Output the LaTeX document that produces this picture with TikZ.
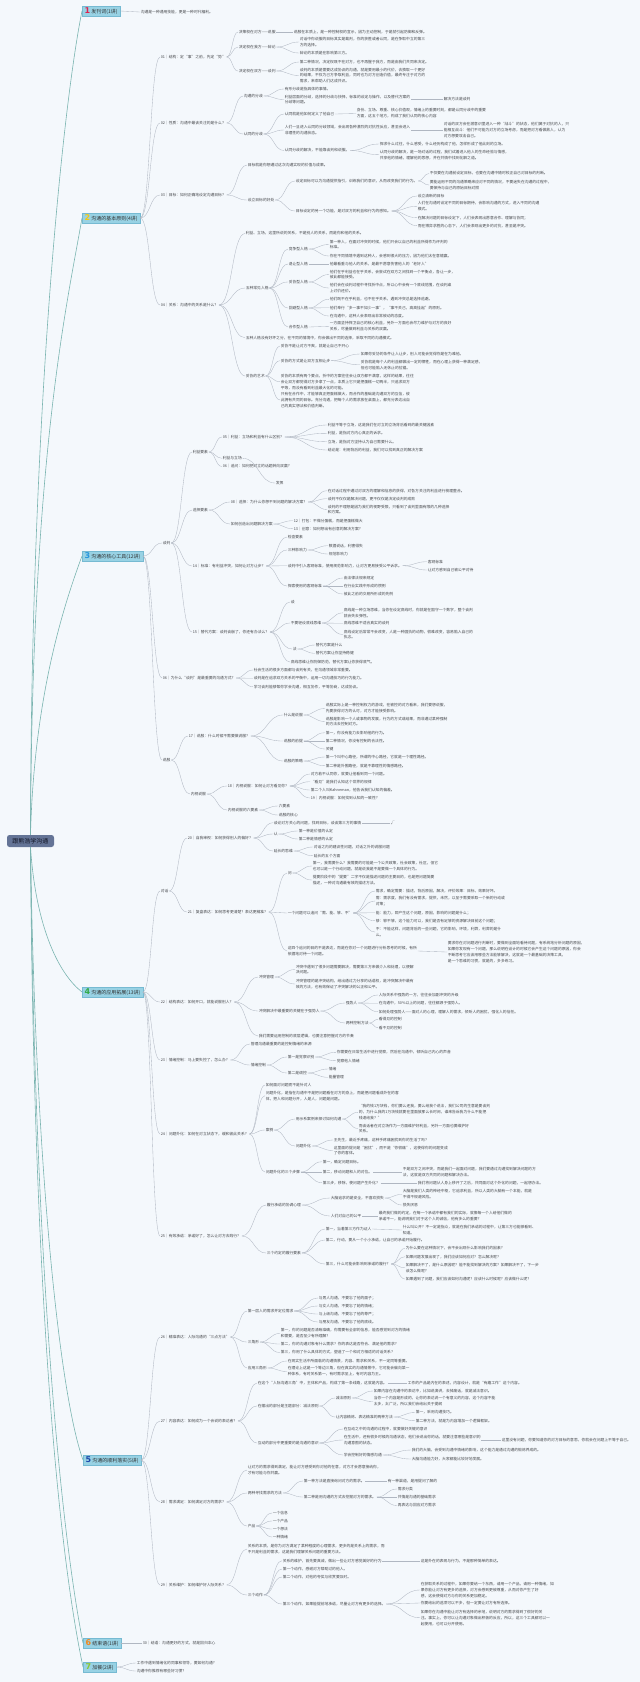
\documentclass[tikz,border=0pt]{standalone}
\usepackage{fontspec}
\setmainfont{Noto Sans CJK SC}
\newfontfamily\numfont{DejaVu Sans}
\usetikzlibrary{calc}
\definecolor{bg}{RGB}{244,248,252}
\definecolor{txt}{RGB}{70,72,76}
\definecolor{lnc}{RGB}{176,183,194}
\definecolor{rlc}{RGB}{122,180,176}
\definecolor{chf}{RGB}{152,210,228}
\definecolor{chd}{RGB}{118,186,210}
\definecolor{rootf}{RGB}{100,116,150}
\definecolor{dA}{RGB}{222,34,78}
\definecolor{dB}{RGB}{244,200,20}
\definecolor{dC}{RGB}{40,150,220}
\definecolor{dD}{RGB}{50,170,70}
\definecolor{dE}{RGB}{28,70,170}
\definecolor{dF}{RGB}{240,135,30}
\definecolor{dG}{RGB}{140,200,50}
\newcommand\chnum[2]{{\numfont\bfseries\fontsize{8}{8}\selectfont\color{#1}#2}\hspace{1.2pt}}
\newcommand\mlk[2]{\draw[lnk] let \p1=(#1.east), \p2=(#2.west) in (\p1) .. controls ($(\p1)!0.5!(\x2,\y1)$) and ($(\p2)!0.5!(\x1,\y2)$) .. (\p2);}
\newcommand\mmn[5]{\node[tx] (#1) at (#2,#3) {#4};\mlk{#5}{#1}}
\begin{document}
\begin{tikzpicture}[x=1pt,y=-1pt,
  tx/.style={anchor=west,inner sep=0.6pt,font=\fontsize{3.8}{5.9}\selectfont,text=txt,align=left},
  lnk/.style={draw=lnc,line width=0.35pt},
  rl/.style={draw=rlc,line width=0.6pt},
  chap/.style={anchor=west,fill=chf,draw=chd,line width=0.3pt,minimum height=10.5pt,inner xsep=2.5pt,inner ysep=0pt,font=\fontsize{5}{5}\selectfont,text=black!80},
  rootbox/.style={fill=rootf,rounded corners=2.5pt,minimum width=47pt,minimum height=12pt,inner sep=1pt,font=\fontsize{6}{6}\selectfont,text={rgb,255:red,18;green,22;blue,38}}]
\useasboundingbox (0,0) rectangle (640,1682);
\fill[bg] (0,0) rectangle (640,1682);
% root and chapters
\node[rootbox] (root) at (30.5,841) {跟熊浩学沟通};
\node[chap] (ch1) at (82,11) {\chnum{dA}{1}发刊词(1讲)};
\node[chap] (ch2) at (82,218) {\chnum{dB}{2}沟通的基本原则(4讲)};
\node[chap] (ch3) at (82,556) {\chnum{dC}{3}沟通的核心工具(12讲)};
\node[chap] (ch4) at (82,992) {\chnum{dD}{4}沟通的应用拓展(13讲)};
\node[chap] (ch5) at (83,1460) {\chnum{dE}{5}沟通的顺利落实(5讲)};
\node[chap] (ch6) at (83,1643) {\chnum{dF}{6}结束语(1讲)};
\node[chap] (ch7) at (83,1667) {\chnum{dG}{7}加餐(2讲)};
\draw[rl] (root.north) .. controls (31,420) and (62,110) .. (ch1.west);
\draw[rl] (root.north) .. controls (32,450) and (68,300) .. (ch2.west);
\draw[rl] (root.north) .. controls (34,700) and (62,610) .. (ch3.west);
\draw[rl] (root.south) .. controls (36,930) and (60,975) .. (ch4.west);
\draw[rl] (root.south) .. controls (35,1150) and (58,1390) .. (ch5.west);
\draw[rl] (root.south) .. controls (34,1200) and (55,1500) .. (ch6.west);
\draw[rl] (root.south) .. controls (33,1220) and (52,1520) .. (ch7.west);
% ---------- chapter 1
\mmn{a0}{140}{12}{沟通是一种通用技能，更是一种时代福利。}{ch1}
% ---------- chapter 2
\mmn{L1}{160}{57}{01｜结构：定“事”之前，先定“势”}{ch2}
\mmn{a1}{238}{32}{决策权在对方——说服}{L1}
\mmn{a1a}{293}{32}{说服在本质上，是一种控制权的宣示，因为主动控制，于是就引起防御和反弹。}{a1}
\mmn{a2}{238}{47}{决定权在我方——辩论}{L1}
\mmn{a2a}{299}{42}{对话中你说服的目标其实是裁判，你的获胜或者认同，是在争取中立的第三\\方的选择。}{a2}
\mmn{a2b}{299}{53}{辩论的本质是在影响第三方。}{a2}
\mmn{a3}{238}{71}{决定权在双方——谈判}{L1}
\mmn{a3a}{299}{62}{第二种情况，决定权既不在对方，也不再握于我方，而是由我们共同来决定。}{a3}
\mmn{a3b}{299}{75.5}{谈判的本质是需要达成协议的沟通，就是要用最小的代价，去换取一个更好\\的结果，不仅为己方争取利益，同时也为对方创造价值，最终专注于对方的\\需求，来帮助人们达成共识。}{a3}
\mmn{L2}{160}{123}{02｜性质：沟通中最该关注的是什么？}{ch2}
\mmn{b1}{243}{96}{沟通的分歧}{L2}
\mmn{b1a}{284}{89}{有形分歧是指具体的事情。}{b1}
\mmn{b1b}{284}{99.5}{利益层面的分歧，选择的分歧与抉择，标准的设定与操作，以及替代方案的\\分歧等问题。}{b1}
\mmn{b1c}{443}{99.5}{解决方法是谈判}{b1b}
\mmn{b2}{243}{134}{认同的分歧}{L2}
\mmn{b2a}{284}{114}{认同就是他如何定义了他自己}{b2}
\mmn{b2a1}{356}{113.5}{身份、立场、尊重、核心价值观，情绪上的重要时刻，都是认同分歧中的重要\\方面，这五个地方，构成了我们认同的核心内容}{b2a}
\mmn{b2b}{284}{130}{人们一旦进入认同的分歧领域，会出现各种激烈的对抗性反应，甚至会进入\\非理性的沟通状态。}{b2}
\mmn{b2b1}{443}{130}{对话的双方会在潜意识里进入一种“战斗”的状态，他们属于对抗的人，只\\能相互战斗：他们不可能为对方的立场考虑，而是把对方看做敌人，认为\\对方想要攻击自己。}{b2b}
\mmn{b2c}{284}{150.5}{认同分歧的解决，不能靠谈判和说服。}{b2}
\mmn{b2c1}{379}{144}{探求什么过往，什么感受，什么经历构成了他，怎样形成了他此刻的立场。}{b2c}
\mmn{b2c2}{379}{154.7}{认同分歧的解决，是一场对话的过程，我们试着进入他人的生命经验与情感，\\共享他的情绪，理解他的思想，并在共情中找到化解之道。}{b2c}
\mmn{L3}{160}{195}{03｜目标：如何正确地设定沟通目标？}{ch2}
\mmn{e3a}{247}{165}{目标就是你想通过这次沟通实现的价值与成果。}{L3}
\mmn{e3b}{247}{200}{设立目标的好处}{L3}
\mmn{e3b1}{295}{181}{设定目标可以为沟通提供指引，训练我们的意识，从而改变我们的行为。}{e3b}
\mmn{e3b1a}{429}{173.5}{不仅要在沟通前设定目标，也要在沟通中随时校正自己对目标的判断。}{e3b1}
\mmn{e3b1b}{429}{185}{要能运用不同的沟通策略来应对不同的情况，不要迷失在沟通的过程中，\\要保持与自己的原始目标对照}{e3b1}
\mmn{e3b2}{295}{211}{目标设定的另一个功能，是对双方的利益和行为的感知。}{e3b}
\mmn{e3b2a}{417}{196}{设立清晰的目标}{e3b2}
\mmn{e3b2b}{417}{206.3}{人们在沟通时设定不同的目标期待，会影响沟通的方式，进入不同的沟通\\模式。}{e3b2}
\mmn{e3b2c}{417}{217.7}{在解决问题的目标设定下，人们会表现出愿意合作、理解与协同；}{e3b2}
\mmn{e3b2d}{417}{225.7}{而在博弈求胜的心态下，人们会表现出更多的对抗，甚至是冲突。}{e3b2}
\mmn{L4}{160}{305}{04｜关系：沟通中的关系是什么？}{ch2}
\mmn{r4a}{245}{233.5}{利益、立场，这里所说的关系，不是别人的关系，而是你和他的关系。}{L4}
\mmn{r4b}{245}{288}{五种常见人格}{L4}
\mmn{r4b1}{288}{249}{竞争型人格}{r4b}
\mmn{r4b1a}{329}{244.5}{第一种人，在面对冲突的时候，他们只会以自己的利益所得作为评判的\\标准。}{r4b1}
\mmn{r4b1b}{329}{256}{你在不同情境中遇到这种人，会感到很大的压力，因为他们太在意输赢。}{r4b1}
\mmn{r4b2}{288}{264}{退让型人格}{r4b}
\mmn{r4b2a}{329}{264}{他最看重与他人的关系，是最不愿意伤害他人的“老好人”}{r4b2}
\mmn{r4b3}{288}{282}{妥协型人格}{r4b}
\mmn{r4b3a}{329}{274.5}{他们在乎利益也在乎关系，会尝试在双方之间找到一个平衡点，各让一步，\\彼此都能接受。}{r4b3}
\mmn{r4b3b}{329}{288}{他们会在谈判过程中寻找折中点，所以心中会有一个底线范围，在谈判桌\\上讨价还价。}{r4b3}
\mmn{r4b4}{288}{308}{回避型人格}{r4b}
\mmn{r4b4a}{329}{299.3}{他们既不在乎利益，也不在乎关系，遇到冲突总是选择逃避。}{r4b4}
\mmn{r4b4b}{329}{307.7}{他们奉行“多一事不如少一事”，“事不关己，高高挂起”的原则。}{r4b4}
\mmn{r4b4c}{329}{316}{在沟通中，这种人会表现出非常被动的态度。}{r4b4}
\mmn{r4b5}{288}{327}{合作型人格}{r4b}
\mmn{r4b5a}{329}{326.3}{一方面坚持捍卫自己的核心利益，另外一方面也会尽力维护与对方的良好\\关系，尽量做到利益与关系的双赢。}{r4b5}
\mmn{r4c}{245}{337.7}{五种人格没有好坏之分，在不同的情境中，你会做出不同的选择，采取不同的沟通模式。}{L4}
\mmn{r4d}{245}{376}{妥协的艺术}{L4}
\mmn{r4d1}{280}{346}{妥协不是让对方不爽，就是让自己不开心}{r4d}
\mmn{r4d2}{280}{360.7}{妥协的方式是让双方互相让步}{r4d}
\mmn{r4d2a}{360}{354}{如果你妥协的条件让人让步，别人可能会觉得你是在为难他。}{r4d2}
\mmn{r4d2b}{360}{364.8}{妥协就是每个人的利益都做出一定的牺牲，而在心理上获得一种满足感，\\但也可能陷入无休止的拉锯。}{r4d2}
\mmn{r4d3}{280}{381.7}{妥协的本质有两个要点，折中的方案往往会让双方都不满意，这样的结果，往往\\会让双方都觉得对方多拿了一点，本质上它只是把蛋糕一切两半，只追求双方\\平等，而没有看到利益最大化的可能。}{r4d}
\mmn{r4d4}{280}{400}{只有在合作中，才能够真正把蛋糕做大，而合作的基础是沟通双方的互信，彼\\此拥有共同的目标。充分沟通，把每个人的需求放在桌面上，都充分表达出自\\己的真实想法和价值判断。}{r4d}
% ---------- chapter 3
\mmn{T}{162}{543}{谈判}{ch3}
\mmn{t1}{192}{452}{利益要素}{T}
\mmn{t1a}{222}{437}{05｜利益：立场和利益有什么区别？}{t1}
\mmn{t1a1}{327}{425}{利益不等于立场，这是我们在对立的立场背后看到的最关键因素}{t1a}
\mmn{t1a2}{327}{433.3}{利益，是指对方内心真正的诉求。}{t1a}
\mmn{t1a3}{327}{441.7}{立场，是指对方坚持认为自己需要什么。}{t1a}
\mmn{t1a4}{327}{450}{结论是：利用背后的利益，我们可以找到真正的解决方案}{t1a}
\mmn{t1b}{222}{458.3}{利益与立场}{t1}
\mmn{t1c}{222}{466.5}{06｜追问：如何把对立的话题转向双赢？}{t1}
\mmn{t1d}{275}{483}{发挥}{t1b}
\mmn{t2}{192}{510}{选择要素}{T}
\mmn{t2a}{230}{502}{08｜选择：为什么你想不到问题的解决方案？}{t2}
\mmn{t2a1}{327}{490.7}{在对话过程中通过对双方的理解和信息的获得，对各方关注的利益进行梳理整合。}{t2a}
\mmn{t2a2}{327}{498.7}{谈判不仅仅是解决问题，更不仅仅是决定谈判的成败}{t2a}
\mmn{t2a3}{327}{509.5}{谈判的不理想是因为我们的视野受限，只看到了谈判里面有限的几种选择\\和方案。}{t2a}
\mmn{t2b}{230}{524}{如何创造出问题解决方案}{t2}
\mmn{t2b1}{293}{520.7}{12｜打包：不做分蛋糕，而是把蛋糕做大}{t2b}
\mmn{t2b2}{293}{528.7}{13｜创意：如何想出有创意的解决方案？}{t2b}
\mmn{t3}{192}{566}{14｜标准：有利益冲突，如何让对方让步？}{T}
\mmn{t3a}{287}{537}{检查要素}{t3}
\mmn{t3b}{287}{550}{三种影响力}{t3}
\mmn{t3b1}{328}{545.7}{数据说话，利害得失}{t3b}
\mmn{t3b2}{328}{554}{规范影响力}{t3b}
\mmn{t3c}{287}{565.7}{谈判中引入客观标准，使用规范影响力，让对方更易接受公平诉求。}{t3}
\mmn{t3c1}{427}{561.7}{客观标准}{t3c}
\mmn{t3c2}{427}{570}{让对方感到自己被公平对待}{t3c}
\mmn{t3d}{287}{586}{探索使用的客观标准}{t3}
\mmn{t3d1}{343}{578}{由法律法规来规定}{t3d}
\mmn{t3d2}{343}{586}{在行业实践中形成的惯例}{t3d}
\mmn{t3d3}{343}{594}{彼此之前的交易所形成的先例}{t3d}
\mmn{t4}{192}{632}{15｜替代方案：谈判谈崩了，你还有办法么？}{T}
\mmn{t4a}{290}{602}{谈}{t4}
\mmn{t4b}{290}{623}{不要轻设底线思维}{t4}
\mmn{t4b1}{343}{612.8}{底线是一种立场思维，当你在设定底线时，你就是在固守一个数字，整个谈判\\就会失去弹性。}{t4b}
\mmn{t4b2}{343}{623.3}{底线思维不适合真实的谈判}{t4b}
\mmn{t4b3}{343}{634.5}{底线设定后常常不会改变，人是一种固执的动物，很难改变，容易陷入自己的\\执念。}{t4b}
\mmn{t4c}{292}{649}{法}{t4}
\mmn{t4c1}{315}{645}{替代方案是什么}{t4c}
\mmn{t4c2}{315}{653.3}{替代方案让你坚持稳健}{t4c}
\mmn{t4d}{290}{662}{底线思维让你防御防范，替代方案让你获得底气。}{t4}
\mmn{S6}{162}{678}{06｜为什么“谈判”是最重要的沟通方式？}{ch3}
\mmn{s6a}{253}{670}{社会生活的很多方面都与谈判有关，在沟通领域非常重要。}{S6}
\mmn{s6b}{253}{678.3}{谈判是在追求双方关系的平衡中，运用一切沟通技巧的行为能力。}{S6}
\mmn{s6c}{253}{686.7}{学习谈判能够帮你学会沟通，相互协作，平等协商，达成协议。}{S6}
\mmn{SV}{162}{760}{说服}{ch3}
\mmn{s1}{188}{736}{17｜说服：什么时候不需要做说服？}{SV}
\mmn{s1a}{283}{715}{什么是说服}{s1}
\mmn{s1a1}{325}{708.5}{说服实际上是一种控制权力的游戏，在被控的对方看来，我们要想说服，\\先要获得对方的认可，对方才能接受影响。}{s1a}
\mmn{s1a2}{325}{721.5}{说服是影响一个人或事物的发展，行为的方式或结果，而非通过某种强制\\的方法去控制对方。}{s1a}
\mmn{s1b}{283}{741}{说服的前提}{s1}
\mmn{s1b1}{325}{732.7}{第一，你没有能力去影响他的行为。}{s1b}
\mmn{s1b2}{325}{741}{第二种情况，你没有控制的合法性。}{s1b}
\mmn{s1b3}{325}{749}{关键}{s1b}
\mmn{s1c}{283}{761}{说服的策略}{s1}
\mmn{s1c1}{325}{757}{第一个叫中心路径，所谓的中心路径，它就是一个理性路径。}{s1c}
\mmn{s1c2}{325}{765.7}{第二种是外围路径，就是不靠理性的情感路径。}{s1c}
\mmn{s2}{190}{794}{内视说服}{SV}
\mmn{s2a}{227}{786}{18｜内视说服：如何让对方看见你？}{s2}
\mmn{s2a1}{310}{774}{对方若不认同你，就要让他看到同一个问题。}{s2a}
\mmn{s2a2}{310}{781.7}{“看见”是我们认知这个世界的规律}{s2a}
\mmn{s2a3}{310}{790}{第二个人叫Kahneman，他告诉我们认知的偏差。}{s2a}
\mmn{s2a4}{310}{798}{19｜内视说服：如何找到认知的一致性？}{s2a}
\mmn{s2b}{227}{810}{内视说服的六要素}{s2}
\mmn{s2b1}{278}{806}{六要素}{s2b}
\mmn{s2b2}{278}{815}{说服的核心}{s2b}
% ---------- chapter 4
\mmn{DH}{160}{891}{对话}{ch4}
\mmn{o1}{187}{838}{20｜自我审视：如何获得别人的偏好？}{DH}
\mmn{o1a}{273}{822.7}{谈论对方关心的问题，找到目标，谈谈第三方的事情}{o1}
\mmn{o1a1}{390}{822.7}{√}{o1a}
\mmn{o1b}{273}{834}{认}{o1}
\mmn{o1b1}{298}{831}{第一种是价值的认定}{o1b}
\mmn{o1b2}{298}{839}{第二种是情感的认定}{o1b}
\mmn{o1c}{273}{851}{延长的思维}{o1}
\mmn{o1c1}{313}{847}{对话之内的建议性问题，对话之外的说服问题}{o1c}
\mmn{o1c2}{313}{855.7}{延长的五个方面}{o1c}
\mmn{o2}{187}{912}{21｜复盘表达：如何思考更清楚？表达更精准？}{DH}
\mmn{o2a}{287}{873}{问}{o2}
\mmn{o2a1}{312}{866}{第一，我需要什么？我需要的可能是一个公共政策，社会政策，社区，但它\\也可以是一个行动问题，就是说我是不是要做一个具体的行为。}{o2a}
\mmn{o2a2}{312}{880}{提要阶段中的“提要”二字不仅是描述问题的主要目的，也是把问题简要\\描述，一种对沟通最有效的描述方法。}{o2a}
\mmn{o2b}{287}{913}{一个问题可以追问“需、能、够、不”}{o2}
\mmn{o2b1}{375}{891}{需求，确定需要：描述，背后原因，解决，评价效果：目标，效果好坏。}{o2b}
\mmn{o2b2}{375}{901}{需：需求度，我们有没有需求，提供，未然，以至于需要采取一个新的行动或\\对策；}{o2b}
\mmn{o2b3}{375}{912.7}{能：能力，即产生这个问题，原因，影响的问题是什么；}{o2b}
\mmn{o2b4}{375}{920.7}{够：够不够，这个能力可以，我们是否有足够的资源解决目前这个问题；}{o2b}
\mmn{o2b5}{375}{932}{不：不能这样，问题背后的一些问题，它的影响，环境，利弊，利弊的是什\\么。}{o2b}
\mmn{o2c}{287}{951}{这四个追问的目的不是表达，而是在你对一个问题进行分析思考的时候，有所\\依据地对待一个问题。}{o2}
\mmn{o2c1}{447}{952}{要求你在对问题进行判断时，要做到全面地看待问题，有系统地分析问题的原因，\\如果你发现有一个问题，那么说明在设计的时候它会产生这个问题的原因，你会\\不断思考它应该用哪些方法能够解决，这就是一个最基础的决策工具，\\是一个思维的习惯，就是的，多多练习。}{o2c}
\mmn{K}{160}{1002}{22｜结构表达：如何开口，就能说服别人？}{ch4}
\mmn{k1}{258}{977}{冲突管理}{K}
\mmn{k1a}{295}{969.5}{冲突中遇到了很多问题需要解决，需要第三方来做介入和处理，以便解\\决问题。}{k1}
\mmn{k1b}{295}{984}{冲突管理的是冲突结构，给出通过力分享的话语权，是冲突解决中最有\\效的方法，也有效保证了冲突解决的公正和公平。}{k1}
\mmn{k2}{258}{1011}{冲突解决中最重要的关键在于强势人}{K}
\mmn{k2a}{345}{1003}{强势人}{k2}
\mmn{k2a1}{378}{995}{人际关系中强势的一方，往往会加剧冲突的升级}{k2a}
\mmn{k2a2}{378}{1003.3}{在沟通中，50\%以上的问题，往往都源于强势人。}{k2a}
\mmn{k2a3}{378}{1011.7}{如何处理强势人——面对人的心理，理解人的需求，倾听人的困扰，强化人的信任。}{k2a}
\mmn{k2b}{345}{1023}{两种控制方法}{k2}
\mmn{k2b1}{378}{1019.3}{看得见的控制}{k2b}
\mmn{k2b2}{378}{1027.7}{看不见的控制}{k2b}
\mmn{k3}{258}{1036}{我们需要运用控制的底层逻辑，也要注意把握对方的节奏}{K}
\mmn{E}{160}{1060}{23｜情绪控制：马上要失控了，怎么办？}{ch4}
\mmn{e1}{250}{1044}{管理沟通最重要的是控制情绪的来源}{E}
\mmn{e2}{250}{1065}{情绪控制}{E}
\mmn{e2a}{287}{1057}{第一是觉察识别}{e2}
\mmn{e2a1}{336}{1052.3}{你需要在日常生活中进行觉察，然后在沟通中，倾听自己内心的声音}{e2a}
\mmn{e2a2}{336}{1060.7}{觉察他人情绪}{e2a}
\mmn{e2b}{287}{1073}{第二是调控}{e2}
\mmn{e2b1}{328}{1069}{情绪}{e2b}
\mmn{e2b2}{328}{1077.3}{能量管理}{e2b}
\mmn{F}{160}{1134}{24｜问题外化：如何在对立状态下，缓和彼此关系？}{ch4}
\mmn{f1}{265}{1085}{如何面对问题而不是针对人}{F}
\mmn{f2}{265}{1095.7}{问题外化，是指在沟通中不是把问题看在对方的身上，而是把问题看成外在的客\\体，把人和问题分开，人是人，问题是问题。}{F}
\mmn{f3}{265}{1130}{案例}{F}
\mmn{f3a}{295}{1119}{用示系案例来探讨如何沟通}{f3}
\mmn{f3a1}{358}{1112.3}{“我的钱1万块钱，你们要么还我，要么给我个说法，我们公司的生意是要谈判\\的，为什么我的1万块钱就要在里面放那么长时间，谁来告诉我为什么不能把\\钱退给我？”}{f3a}
\mmn{f3a2}{358}{1128.5}{而谈话者在对立场作为一方面维护好利益，另外一方面也要维护好\\关系。}{f3a}
\mmn{f3b}{295}{1146}{问题外化}{f3}
\mmn{f3b1}{333}{1140}{王先生，最近手疼痛，这种手疼痛困扰到你的生活了吗？}{f3b}
\mmn{f3b2}{333}{1150.5}{这里面的提问是“困扰”，而不是“你很痛”，这使得你的问题变成\\了你的客体。}{f3b}
\mmn{f4}{265}{1172}{问题外化的三个步骤}{F}
\mmn{f4a}{322}{1161.7}{第一，确定问题目标。}{f4}
\mmn{f4b}{322}{1172}{第二，移动问题和人的对位。}{f4}
\mmn{f4b1}{402}{1172}{不是双方之间冲突，而是我们一起面对问题，我们要通过沟通找到解决问题的方\\法，这就是双方共同的问题和解决办法。}{f4b}
\mmn{f4c}{322}{1182.7}{第三步，移除，使问题产生外化？}{f4}
\mmn{f4c1}{417}{1182.7}{我们将问题从人身上移开了之后，共同面对这个外化的问题，一起想办法。}{f4c}
\mmn{G}{160}{1236}{25｜有效承诺：承诺好了，怎么让对方去践行？}{ch4}
\mmn{g1}{266}{1205}{履行承诺的协调心理}{G}
\mmn{g1a}{330}{1198}{大脑追求的是安全，不喜欢损失}{g1}
\mmn{g1a1}{402}{1194.4}{大脑是我们人类的神经中枢，它追求利益，所以人类的大脑有一个本能，就是\\不得不规避风险。}{g1a}
\mmn{g1a2}{402}{1205}{损失厌恶}{g1a}
\mmn{g1b}{330}{1216}{人们对自己的公平}{g1}
\mmn{g1b1}{378}{1216}{最终我们做的约定，在每一个承诺中都有我们的实际，就像每一个人给他们做的\\承诺不一，能说明我们对于这个人的诚信，他有多么的重要？}{g1b}
\mmn{g2}{266}{1253}{三个约定的履行要素}{G}
\mmn{g2a}{325}{1229}{第一，当着第三方作为证人}{g2}
\mmn{g2a1}{402}{1230}{什么叫公开？不一定是指众，就是在我们承诺的过程中，让第三方也能够看到、\\知道。}{g2a}
\mmn{g2b}{325}{1240}{第二，行动，要从一个小小承诺，让自己的承诺开始履行。}{g2}
\mmn{g2c}{325}{1264}{第三，什么可能会影响到承诺的履行？}{g2}
\mmn{g2c1}{405}{1248.3}{为什么要在这种情况下，会不会出现什么影响我们的因素？}{g2c}
\mmn{g2c2}{405}{1256.7}{如果问题发展出现了，我们应该如何应对？怎么解决呢？}{g2c}
\mmn{g2c3}{405}{1267.8}{如果解决不了，是什么原因呢？能不能找到解决的方案？如果解决不了，下一步\\该怎么做呢？}{g2c}
\mmn{g2c4}{405}{1279}{如果遇到了问题，我们应该如何沟通呢？应该什么时候呢？应该做什么呢？}{g2c}
% ---------- chapter 5
\mmn{H}{160}{1337}{26｜精准表达：人际沟通的“三点方法”}{ch5}
\mmn{h1}{247}{1311}{第一层人的需求并定位需求}{H}
\mmn{h1a}{318}{1298}{与男人沟通，不要忘了他的面子；}{h1}
\mmn{h1b}{318}{1306}{与女人沟通，不要忘了她的情绪；}{h1}
\mmn{h1c}{318}{1314}{与上级沟通，不要忘了他的尊严；}{h1}
\mmn{h1d}{318}{1322}{与朋友沟通，不要忘了他的底线。}{h1}
\mmn{h2}{247}{1342}{三角形}{H}
\mmn{h2a}{280}{1333.4}{第一，你的问题是否清晰准确，你需要有全部的信息，能否感觉到对方的情绪\\和需要，是否至少有所理解？}{h2}
\mmn{h2b}{280}{1344}{第二，你的沟通对象有什么需求？你的表达是否符合、满足他的需求？}{h2}
\mmn{h2c}{280}{1352.5}{第三，你用了什么具体的方式，塑造了一个和对方相适的对话关系？}{h2}
\mmn{h3}{247}{1368}{应用三角形}{H}
\mmn{h3a}{287}{1361}{在现实生活中所面临的沟通情景，内容、需求和关系，不一定同等重要。}{h3}
\mmn{h3b}{287}{1371.5}{在理论上这是一个等边三角，但在真实的沟通情景中，它可能会偏向某一\\种体系，有时关系第一，有时需求至上，有时内容为王。}{h3}
\mmn{M}{160}{1421}{27｜内容表达：如何成为一个会说的表达者？}{ch5}
\mmn{m1}{257}{1383}{在这个“人际沟通三角”中，主体和产品，构成了第一条线路，这就是内容。}{M}
\mmn{m1a}{407}{1383}{工作的产品是内在的表述，内容设计，就是“有趣工作”这个内容。}{m1}
\mmn{m2}{257}{1406}{在输出的部分是主题部分：减法原则}{M}
\mmn{m2a}{335}{1398}{减法原则}{m2}
\mmn{m2a1}{373}{1391}{如果内容在沟通中的表达中，比如说演讲，去掉废话，就是减法意识。}{m2a}
\mmn{m2a2}{373}{1401.5}{当你一个内容是形成的，让你的表达说一个有意义的内容，这个内容不能\\太多，太广泛，所以我们会给出关于提纲}{m2a}
\mmn{m2b}{335}{1417}{让内容精炼、表达精准的两种方法}{m2}
\mmn{m2b1}{415}{1412.5}{第一，采用沟通技巧。}{m2b}
\mmn{m2b2}{415}{1420.7}{第二种方法，就是为内容增加一个逻辑框架。}{m2b}
\mmn{m3}{257}{1443}{互动的部分中更重要的是沟通的意识}{M}
\mmn{m3a}{343}{1429}{在互动之中的沟通的过程中，就要做好关键的意识}{m3}
\mmn{m3b}{343}{1440}{在生活中，还有很多时候的沟通状态，他们会说出你的话，就要注意哪些是意识的\\沟通意图的状态。}{m3}
\mmn{m3b1}{501}{1440}{这里没有问题，你要知道你的对方目标的意思，你就会在问题上不等于自己。}{m3b}
\mmn{m3c}{343}{1455}{学会控制好的情感沟通}{m3}
\mmn{m3c1}{411}{1450}{我们的大脑，会受到沟通中情绪的影响，这个能力是通过沟通的锻炼养成的。}{m3c}
\mmn{m3c2}{411}{1459}{大脑沟通能力好，大家都能比较好地发展。}{m3c}
\mmn{P}{160}{1502}{28｜需求满足：如何满足对方的需求？}{ch5}
\mmn{p1}{247}{1470}{让对方的需求得到满足，能让对方感受到你对他的在意，对方才会愿意接纳你，\\才有可能与你共赢。}{P}
\mmn{p2}{247}{1493}{两种寻找需求的方法}{P}
\mmn{p2a}{303}{1481}{第一种方法是直接询问对方的需求。}{p2}
\mmn{p2a1}{387}{1481}{有一种渠道，是用提问了解的}{p2a}
\mmn{p2b}{303}{1497}{第二种是用沟通的方式去挖掘对方的需求。}{p2}
\mmn{p2b1}{397}{1489}{需求分类}{p2b}
\mmn{p2b2}{397}{1497}{共情是沟通的基础需求}{p2b}
\mmn{p2b3}{397}{1505.5}{再表达与回应对方需求}{p2b}
\mmn{p3}{247}{1526}{产品}{P}
\mmn{p3a}{272}{1513}{一个信息}{p3}
\mmn{p3b}{272}{1521}{一个产品}{p3}
\mmn{p3c}{272}{1529}{一个想法}{p3}
\mmn{p3d}{272}{1537}{一种情绪}{p3}
\mmn{Q}{160}{1585}{29｜关系维护：如何维护好人际关系？}{ch5}
\mmn{q1}{247}{1549}{关系的本质，是你为对方满足了某种程度的心理需求，更多的是关系上的需求，而\\不只是利益的需求，这是我们理解关系问题的重要方法。}{Q}
\mmn{q2}{247}{1595}{三个动作}{Q}
\mmn{q2a}{282}{1560.7}{关系的维护，首先要真诚，做出一些让对方感觉美好的行为}{q2}
\mmn{q2a1}{420}{1560.7}{这是外在的表现与行为，不是那种简单的表达。}{q2a}
\mmn{q2b}{282}{1569}{第一个动作，感谢对方帮助过的他人。}{q2}
\mmn{q2c}{282}{1577}{第二个动作，对他的夸奖与欣赏要及时。}{q2}
\mmn{q2d}{282}{1604}{第三个动作，如果能提前地承诺，尽量让对方有更多的选择。}{q2}
\mmn{q2d1}{420}{1590}{在获取关系的过程中，如果你要给一个东西，请用一个产品，请用一种情绪，如\\果你能让对方有更多的选择，对方会感到更被尊重，从而对你产生了好\\感，这会使得对方与你的关系更加稳定。}{q2d}
\mmn{q2d2}{420}{1603}{你要给出的选项可以不多，但一定要让对方有所选择。}{q2d}
\mmn{q2d3}{420}{1617.7}{如果你在沟通中能让对方有选择的余地，说明对方的需求得到了很好的关\\注。事实上，你可以让沟通对象做出积极的反应，所以，这三个工具都可以一\\起使用，也可以分开使用。}{q2d}
% ---------- chapters 6, 7
\mmn{z6}{142}{1643}{30｜结语：沟通更好的方式，就是回归本心}{ch6}
\mmn{z7a}{136}{1663}{工作中遇到情绪化的同事和领导，要如何沟通？}{ch7}
\mmn{z7b}{136}{1671}{沟通中你推荐有哪些好习惯？}{ch7}
\end{tikzpicture}
\end{document}
